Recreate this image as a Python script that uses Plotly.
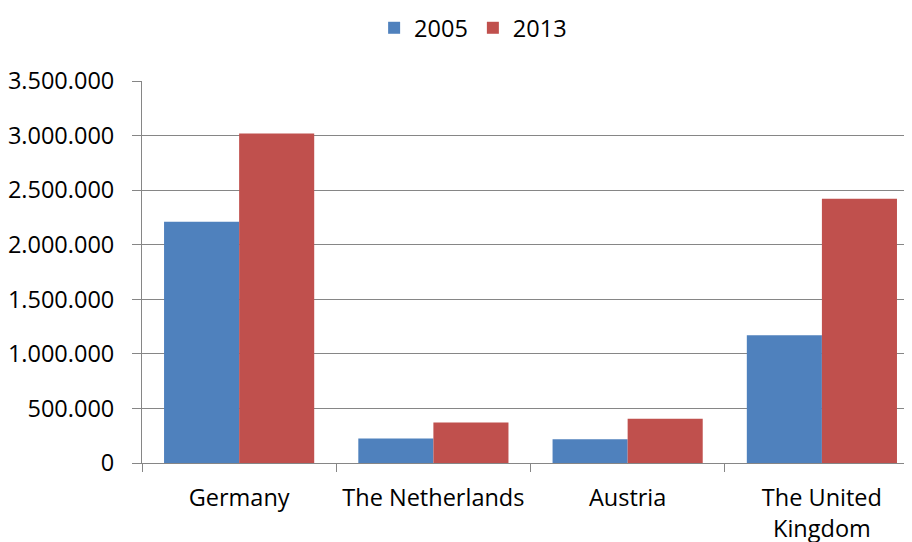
import plotly.graph_objects as go

categories = ["Germany", "The Netherlands", "Austria", "The United<br>Kingdom"]
series_names = ["2005", "2013"]
values_2005 = [2210000, 225000, 218000, 1170000]
values_2013 = [3020000, 372000, 405000, 2420000]
y_ticks = [0, 500000, 1000000, 1500000, 2000000, 2500000, 3000000, 3500000]

colors = ["#4F81BD", "#C0504D"]
font_family = "Open Sans, Liberation Sans, sans-serif"

fig = go.Figure()
for name, vals, col in zip(series_names, [values_2005, values_2013], colors):
    fig.add_trace(go.Bar(x=categories, y=vals, name=name,
                         marker=dict(color=col, line=dict(width=0))))

fig.update_layout(
    width=912, height=542,
    margin=dict(l=131, r=0, t=73, b=87),
    paper_bgcolor="white", plot_bgcolor="white",
    barmode="group", bargap=0.227, bargroupgap=0,
    separators=",.",
    font=dict(family=font_family, size=23.5, color="black"),
    legend=dict(orientation="h", xref="container", yref="container",
                x=0.51, xanchor="center", y=1 - 20/542, yanchor="middle",
                font=dict(size=23.5), itemwidth=30, traceorder="normal"),
    showlegend=True,
)
fig.update_xaxes(
    range=[-0.5, 3.505],
    showline=True, linecolor="#868686", linewidth=1,
    ticks="outside", tickson="boundaries", ticklen=8, tickcolor="#868686",
    ticklabelstandoff=14,
    showgrid=False, tickfont=dict(size=23.5),
)
fig.update_yaxes(
    range=[0, 3500000], tickvals=y_ticks, tickformat=",d",
    showline=True, linecolor="#868686", linewidth=1,
    ticks="outside", ticklen=9, tickcolor="#868686",
    ticklabelstandoff=13,
    showgrid=True, gridcolor="#868686", gridwidth=1,
    zeroline=False, tickfont=dict(size=23.5),
)

fig.write_html("out.html")
